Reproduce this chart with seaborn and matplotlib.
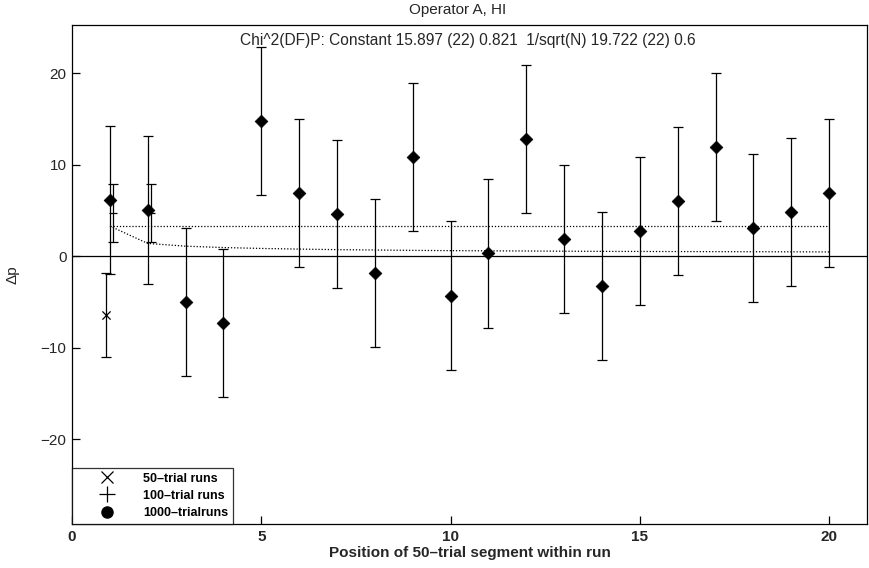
import matplotlib
matplotlib.use("Agg")
import matplotlib.pyplot as plt
import seaborn as sns
import pandas as pd
import numpy as np
from matplotlib.lines import Line2D

# ---- data ----
positions = list(range(1, 21))
delta_1000 = [6.1, 5.1, -5.0, -7.3, 14.8, 6.9, 4.6, -1.8, 10.9, -4.3,
              0.3, 12.8, 1.9, -3.3, 2.8, 6.0, 12.0, 3.1, 4.8, 6.9]
err_1000 = [8.1] * 20

pos_50 = [0.89]
delta_50 = [-6.45]
err_50 = [4.6]

pos_100 = [1.08, 2.08]
delta_100 = [4.75, 4.75]
err_100 = [3.2, 3.2]

const_fit = [3.3] * 20
sqrt_fit = [3.3, 1.4, 1.1, 0.95, 0.85, 0.78, 0.72, 0.68, 0.64, 0.61,
            0.59, 0.57, 0.55, 0.53, 0.52, 0.51, 0.50, 0.49, 0.48, 0.47]

title = "Operator A, HI"
subtitle = "Chi^2(DF)P: Constant 15.897 (22) 0.821  1/sqrt(N) 19.722 (22) 0.6"
xlabel = "Position of 50\u2013trial segment within run"
ylabel = "\u0394p"
legend_labels = ["50\u2013trial runs", "100\u2013trial runs", "1000\u2013trialruns"]
xticks = [0, 5, 10, 15, 20]
yticks = [-20, -10, 0, 10, 20]

df = pd.DataFrame({"pos": positions, "delta": delta_1000, "err": err_1000,
                   "const": const_fit, "sqrtn": sqrt_fit})

sns.set_theme(style="white")
plt.rcParams["font.family"] = ["Liberation Sans", "DejaVu Sans"]

fig = plt.figure(figsize=(8.69, 5.68), dpi=100)
ax = fig.add_axes([72 / 869, 1 - 524 / 568, (867 - 72) / 869, (524 - 25) / 568])

# zero line
ax.axhline(0, color="black", lw=0.9, zorder=1)

# fit curves
sns.lineplot(data=df, x="pos", y="const", ax=ax, color="black", lw=0.9,
             linestyle=(0, (1, 1.5)), zorder=2)
sns.lineplot(data=df, x="pos", y="sqrtn", ax=ax, color="black", lw=0.9,
             linestyle=(0, (1, 1.5)), zorder=2)

# error bars
ax.errorbar(df["pos"], df["delta"], yerr=df["err"], fmt="none", ecolor="black",
            elinewidth=0.9, capsize=3.5, capthick=0.9, zorder=3)
ax.errorbar(pos_50, delta_50, yerr=err_50, fmt="none", ecolor="black",
            elinewidth=0.9, capsize=3.5, capthick=0.9, zorder=3)
ax.errorbar(pos_100, delta_100, yerr=err_100, fmt="none", ecolor="black",
            elinewidth=0.9, capsize=3.5, capthick=0.9, zorder=3)

# markers
sns.scatterplot(data=df, x="pos", y="delta", ax=ax, marker="D", s=42,
                color="black", edgecolor="black", zorder=4)
ax.scatter(pos_50, delta_50, marker="x", s=35, color="black", lw=0.9, zorder=4)
ax.scatter(pos_100, delta_100, marker="_", s=30, color="black", lw=0.9, zorder=4)

ax.set_xlim(0, 21)
ax.set_ylim(-29.3, 25.3)
ax.set_xticks(xticks)
ax.set_yticks(yticks)
ax.set_xticklabels([str(t) for t in xticks], fontweight="bold", fontsize=11)
ax.set_yticklabels([f"{t}".replace("-", "\u2212") for t in yticks], fontsize=11)
ax.tick_params(direction="in", length=6, width=0.9, color="black",
               bottom=True, left=True, top=False, right=False, pad=4)
for sp in ax.spines.values():
    sp.set_color("black")
    sp.set_linewidth(0.9)
    sp.set_visible(True)

ax.set_xlabel(xlabel, fontweight="bold", fontsize=11)
ax.xaxis.set_label_coords(0.5, -0.045)
ax.set_ylabel(ylabel, fontsize=11)
ax.yaxis.set_label_coords(-0.066, 0.5)

fig.text(458 / 869, 1 - 10 / 568, title, ha="center", va="center", fontsize=11)
fig.text(240 / 869, 1 - 41 / 568, subtitle, ha="left", va="center", fontsize=11.2)

handles = [
    Line2D([], [], marker="x", color="black", lw=0, markersize=9, markeredgewidth=0.9),
    Line2D([], [], marker="+", color="black", lw=0, markersize=11, markeredgewidth=0.9),
    Line2D([], [], marker="o", color="black", lw=0, markersize=8),
]
leg = ax.legend(handles, legend_labels, loc="lower left", bbox_to_anchor=(0, 0),
                borderaxespad=0, frameon=True, fancybox=False, edgecolor="black",
                prop={"weight": "bold", "size": 9}, handletextpad=0.5,
                borderpad=0.4, labelspacing=0.42, handlelength=4.8)
leg.get_frame().set_linewidth(0.9)
for t in leg.get_texts():
    t.set_color("black")

fig.savefig("out.png", dpi=100)
